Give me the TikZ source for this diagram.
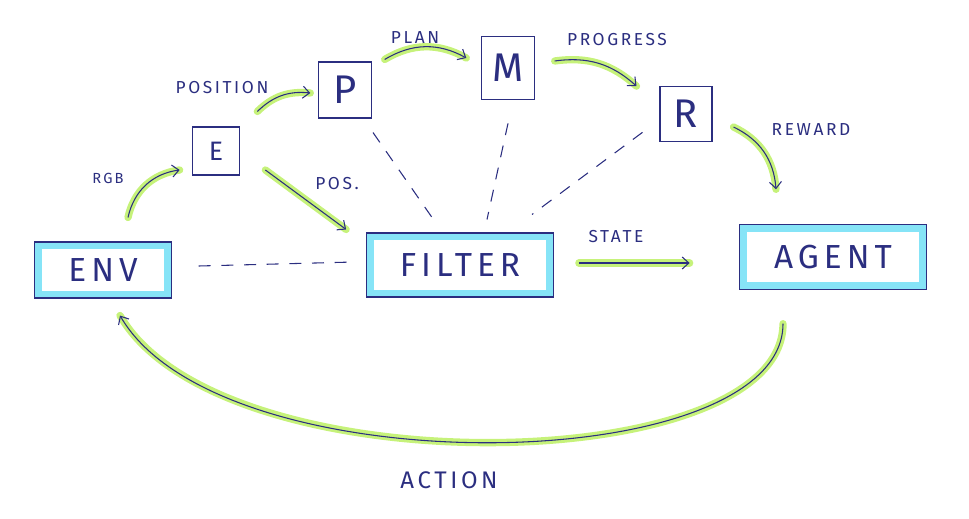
\documentclass[tikz,border=0pt]{standalone}
\usepackage{fontspec}
\usepackage{tikz}
\usetikzlibrary{arrows.meta}
\newfontfamily\handfont[LetterSpace=15]{Fira Sans}
\definecolor{ink}{HTML}{2B2E80}
\definecolor{marker}{HTML}{C6F27A}
\definecolor{glow}{HTML}{86E4F7}
\tikzset{
	bigbox/.style   = {shape=rectangle, draw=ink, line width=0.8pt,
		inner sep=0pt, text=ink, font=\handfont\fontsize{25}{25}\selectfont,
		path picture={\draw[glow, line width=5pt]
			([shift={(3pt,-3pt)}]path picture bounding box.north west) rectangle
			([shift={(-3pt,3pt)}]path picture bounding box.south east);}},
	smallbox/.style = {shape=rectangle, draw=ink, line width=0.8pt,
		inner sep=0pt, minimum width=40pt, minimum height=42pt,
		text=ink, font=\handfont\fontsize{30}{30}\selectfont},
	tag/.style      = {text=ink, font=\handfont\fontsize{13}{13}\selectfont},
	flow/.style     = {draw=ink, line width=0.8pt,
		-{Straight Barb[length=5pt, width=9pt]},
		preaction={draw=marker, line width=5.5pt, line cap=round, -}},
	link/.style     = {draw=ink, line width=0.8pt, dash pattern=on 9pt off 8pt}
}

\begin{document}
\begin{tikzpicture}
	[
	x = 0.75pt,
	y = 0.75pt
	]
	\useasboundingbox (0,0) rectangle (969,518);
	\node [bigbox, minimum width=103pt, minimum height=42pt] (env) at (103,248) {ENV};
	\node [bigbox, minimum width=140pt, minimum height=48pt] (filter) at (460,253) {FILTER};
	\node [bigbox, minimum width=140pt, minimum height=49pt] (agent) at (833,261) {AGENT};
	\node [smallbox, minimum width=35pt, minimum height=36pt,
		font=\handfont\fontsize{20}{20}\selectfont] (e) at (216,367) {E};
	\node [smallbox] (p) at (345,428) {P};
	\node [smallbox, minimum height=47pt] (m) at (508,450) {M};
	\node [smallbox, minimum width=39pt, minimum height=41pt] (r) at (686,404) {R};

	\node [tag, font=\handfont\fontsize{11}{11}\selectfont] (rgb) at (108,340) {RGB};
	\node [tag] (position) at (222,430) {POSITION};
	\node [tag] (plan) at (415,480) {PLAN};
	\node [tag] (progress) at (617,478) {PROGRESS};
	\node [tag] (pos) at (337,334) {POS.};
	\node [tag] (reward) at (811,388) {REWARD};
	\node [tag] (state) at (616,281) {STATE};
	\node [tag, font=\handfont\fontsize{18}{18}\selectfont] (action) at (449,38) {ACTION};

	\draw [flow] ([shift={(25,24)}]env.north) to [bend left=35] ([shift={(-12.5,-19)}]e.west);
	\draw [flow] ([shift={(17.5,15)}]e.north east) to [bend left=25] ([shift={(-7.5,-3)}]p.west);
	\draw [flow] ([shift={(12.5,2)}]p.north east) to [bend left=30] ([shift={(-14.5,10)}]m.west);
	\draw [flow] ([shift={(19.5,7)}]m.east) to [bend left=25] ([shift={(-23,0)}]r.north west);
	\draw [flow] ([shift={(21,-13)}]r.east) to [bend left=30] ([shift={(-57,34.5)}]agent.north);
	\draw [flow] ([shift={(25.5,-19)}]e.east) -- ([shift={(-20,3)}]filter.north west);
	\draw [flow] ([shift={(25,2)}]filter.east) -- ([shift={(-49.5,-6)}]agent.west);
	\draw [flow] ([shift={(-50,-33.5)}]agent.south) .. controls +(0,-155) and +(100,-173) ..
		([shift={(17,-17)}]env.south);

	\draw [link] ([shift={(26.5,4)}]env.east) -- ([shift={(-12,3)}]filter.west);
	\draw [link] ([shift={(28,-14)}]p.south) -- ([shift={(-28,15)}]filter.north);
	\draw [link] ([shift={(0,-23.5)}]m.south) -- ([shift={(27,13)}]filter.north);
	\draw [link] ([shift={(-17,9.5)}]r.south west) -- ([shift={(72,18)}]filter.north);
\end{tikzpicture}
\end{document}
